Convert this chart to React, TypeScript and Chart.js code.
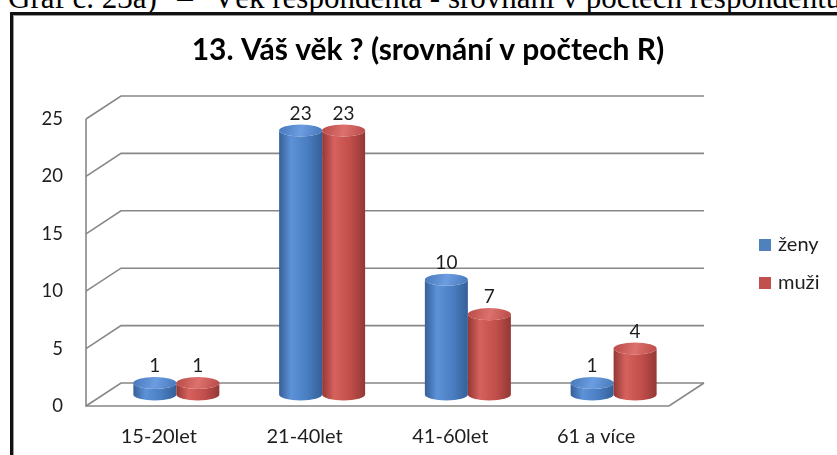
import React, { useEffect, useRef } from "react";
import { Chart, registerables } from "chart.js";
Chart.register(...registerables);

const categories = ["15-20let", "21-40let", "41-60let", "61 a více"];
const zenyValues = [1, 23, 10, 1];
const muziValues = [1, 23, 7, 4];
const seriesLabels = ["ženy", "muži"];
const yMin = 0;
const yMax = 25;
const yStep = 5;
const chartTitle = "13. Váš věk ? (srovnání v počtech R)";
const captionStart = "Graf č. 23a)";
const captionDash = " – ";
const captionEnd = "Věk respondenta - srovnání v počtech respondentů";

const DEPTH_X = 35;
const DEPTH_Y = -23;
const GRID_COLOR = "#878787";
const FONT = "Lato, 'Open Sans', sans-serif";
const TEXT_COLOR = "#1e1e1e";
const PALETTE = [
  { base: "#4F81BD", dark: "#355f98", light: "#5d92d8", mid: "#4a7ec2", top: "#4678bb", topLight: "#6b9de0" },
  { base: "#C0504D", dark: "#933835", light: "#d6615d", mid: "#c24f4b", top: "#b84a47", topLight: "#dc716d" },
];

function drawCylinder(ctx: CanvasRenderingContext2D, cx: number, topY: number, botY: number, w: number, c: any) {
  const rx = w / 2;
  const ry = w * 0.14;
  const left = cx - rx;
  const right = cx + rx;
  const g = ctx.createLinearGradient(left, 0, right, 0);
  g.addColorStop(0, c.dark);
  g.addColorStop(0.28, c.light);
  g.addColorStop(0.65, c.mid);
  g.addColorStop(1, c.dark);
  ctx.beginPath();
  ctx.moveTo(left, topY);
  ctx.lineTo(left, botY);
  ctx.ellipse(cx, botY, rx, ry, 0, Math.PI, 0, true);
  ctx.lineTo(right, topY);
  ctx.ellipse(cx, topY, rx, ry, 0, 0, Math.PI, false);
  ctx.closePath();
  ctx.fillStyle = g;
  ctx.fill();
  const tg = ctx.createLinearGradient(left, topY - ry, right, topY + ry);
  tg.addColorStop(0, c.top);
  tg.addColorStop(0.5, c.topLight);
  tg.addColorStop(1, c.top);
  ctx.beginPath();
  ctx.ellipse(cx, topY, rx, ry, 0, 0, Math.PI * 2);
  ctx.fillStyle = tg;
  ctx.fill();
}

const threeDPlugin = {
  id: "threeD",
  beforeDatasetsDraw(chart: any) {
    const { ctx, chartArea: a, scales } = chart;
    const y = scales.y;
    ctx.save();
    ctx.strokeStyle = GRID_COLOR;
    ctx.lineWidth = 1.6;
    y.ticks.forEach((t: any) => {
      const py = y.getPixelForValue(t.value);
      ctx.beginPath();
      ctx.moveTo(a.left, py);
      ctx.lineTo(a.left + DEPTH_X, py + DEPTH_Y);
      ctx.lineTo(a.right + DEPTH_X, py + DEPTH_Y);
      ctx.stroke();
    });
    const y0 = y.getPixelForValue(yMin);
    const yT = y.getPixelForValue(yMax);
    ctx.beginPath();
    ctx.moveTo(a.left, yT);
    ctx.lineTo(a.left, y0);
    ctx.lineTo(a.right, y0);
    ctx.lineTo(a.right + DEPTH_X, y0 + DEPTH_Y);
    ctx.stroke();
    ctx.restore();
  },
  afterDatasetsDraw(chart: any) {
    const { ctx } = chart;
    ctx.save();
    const labels: any[] = [];
    const n = chart.data.labels.length;
    for (let i = 0; i < n; i++) {
      chart.data.datasets.forEach((ds: any, di: number) => {
        const meta = chart.getDatasetMeta(di);
        const el = meta.data[i];
        if (!el) return;
        const cx = el.x + DEPTH_X / 2;
        const topY = el.y + DEPTH_Y / 2;
        const botY = el.base + DEPTH_Y / 2;
        drawCylinder(ctx, cx, topY, botY, el.width, PALETTE[di]);
        labels.push({ x: cx, y: topY - 17, text: String(ds.data[i]) });
      });
    }
    ctx.fillStyle = TEXT_COLOR;
    ctx.font = `19px ${FONT}`;
    ctx.textAlign = "center";
    ctx.textBaseline = "middle";
    labels.forEach((l) => ctx.fillText(l.text, l.x, l.y));
    ctx.restore();
  },
  afterDraw(chart: any) {
    const { ctx } = chart;
    ctx.save();
    ctx.fillStyle = "#000";
    ctx.font = `bold 30px ${FONT}`;
    ctx.textAlign = "center";
    ctx.textBaseline = "middle";
    ctx.fillText(chartTitle, 428, 50);
    chart.data.datasets.forEach((ds: any, di: number) => {
      const cy = 245 + di * 38;
      ctx.fillStyle = PALETTE[di].base;
      ctx.fillRect(759, cy - 6, 12, 12);
      ctx.fillStyle = TEXT_COLOR;
      ctx.font = `20px ${FONT}`;
      ctx.textAlign = "left";
      ctx.fillText(ds.label, 778, cy);
    });
    ctx.restore();
  },
};

function ChartView() {
  const ref = useRef<HTMLCanvasElement>(null);
  useEffect(() => {
    if (!ref.current) return;
    const chart = new Chart(ref.current, {
      type: "bar",
      data: {
        labels: categories,
        datasets: [
          { label: seriesLabels[0], data: zenyValues, backgroundColor: "rgba(0,0,0,0)" },
          { label: seriesLabels[1], data: muziValues, backgroundColor: "rgba(0,0,0,0)" },
        ],
      },
      options: {
        responsive: false,
        animation: false,
        events: [],
        layout: { padding: { left: 20, right: 168, top: 119, bottom: 0 } },
        datasets: { bar: { categoryPercentage: 0.59, barPercentage: 1 } },
        plugins: { legend: { display: false }, title: { display: false }, tooltip: { enabled: false } },
        scales: {
          x: {
            grid: { display: false, drawTicks: false },
            border: { display: false },
            ticks: { padding: 19, color: TEXT_COLOR, font: { size: 20, family: FONT } },
            afterFit: (s: any) => { s.height = 49; },
          },
          y: {
            min: yMin,
            max: yMax,
            grid: { display: false, drawTicks: false },
            border: { display: false },
            ticks: { stepSize: yStep, padding: 23, color: TEXT_COLOR, font: { size: 18.5, family: FONT } },
            afterFit: (s: any) => { s.width = 66; },
          },
        },
      },
      plugins: [threeDPlugin],
    } as any);
    return () => chart.destroy();
  }, []);
  return <canvas ref={ref} width={837} height={455} style={{ position: "absolute", left: 0, top: 0, width: 837, height: 455 }} />;
}

export default function App() {
  return (
    <div style={{ position: "fixed", left: 0, top: 0, width: 837, height: 455, overflow: "hidden", background: "#fff" }}>
      <div
        style={{
          position: "absolute",
          left: 8,
          top: -18,
          whiteSpace: "pre",
          fontFamily: "'Liberation Serif', 'Times New Roman', serif",
          fontSize: 31,
          lineHeight: "31px",
          color: "#000",
        }}
      >
        <span>{captionStart}</span>
        <span style={{ display: "inline-block", width: 56, textAlign: "center" }}>{captionDash}</span>
        <span>{captionEnd}</span>
      </div>
      <div
        style={{
          position: "absolute",
          left: 10,
          top: 12,
          width: 900,
          height: 500,
          border: "3px solid #111",
          boxShadow: "inset 1px 1px 0 #999",
        }}
      />
      <ChartView />
    </div>
  );
}
